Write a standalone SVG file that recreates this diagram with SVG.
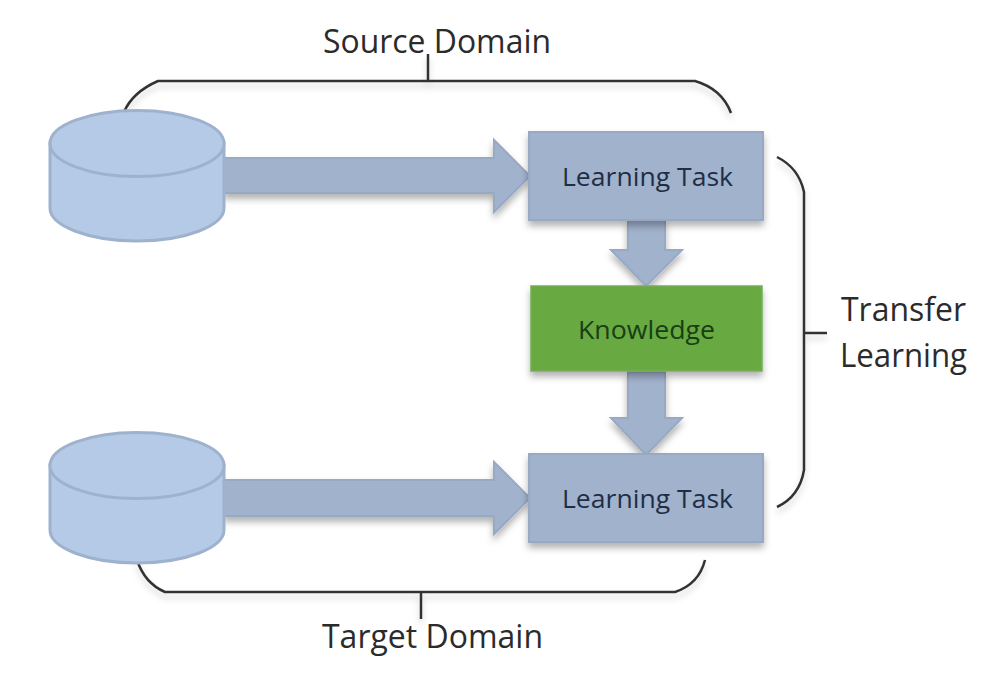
<svg xmlns="http://www.w3.org/2000/svg" width="1000" height="674" viewBox="0 0 1000 674">
<style>
text{font-family:"Open Sans","Noto Sans","Liberation Sans",sans-serif}
.lbl{font-size:32px;fill:#2b2b2b}
.task{font-size:26px;fill:#1f2e44}
.know{font-size:26px;fill:#173f12}
.cyl{fill:#b5cae6;stroke:#9fb2cd;stroke-width:3}
.box{fill:#a1b2cd;stroke:#98a9c4;stroke-width:2}
.arr{fill:#a1b2cd;stroke:#98a9c4;stroke-width:2}
.br{fill:none;stroke:#333;stroke-width:2.5}
</style>
<defs>
<filter id="sh" x="-10%" y="-10%" width="120%" height="130%"><feDropShadow dx="0" dy="5" stdDeviation="3.500" flood-color="#000" flood-opacity="0.3"/></filter>
<filter id="shl" x="-5%" y="-20%" width="110%" height="160%"><feDropShadow dx="0" dy="5" stdDeviation="3" flood-color="#000" flood-opacity="0.18"/></filter>
</defs>
<rect width="1000" height="674" fill="#fff"/>
<g id="connectors">
<path class="arr" filter="url(#sh)" d="M224 158H494V140L530 176L494 212V193H224Z"/>
<path class="arr" filter="url(#sh)" d="M224 480H494V462L530 498L494 534V516H224Z"/>
<path class="arr" filter="url(#sh)" d="M628 220H665V250H682L646 286L611 250H628Z"/>
<path class="arr" filter="url(#sh)" d="M628 372H665V418H682L646 455L611 418H628Z"/>
<path class="br" filter="url(#shl)" d="M124 112C130 98 142 88 158 81H695C712 86 725 97 731 113M428 81V54"/>
<path class="br" filter="url(#shl)" d="M777 157C793 165 801 178 804 192V470C801 488 792 500 777 507M804 333H827"/>
<path class="br" filter="url(#shl)" d="M137 560C142 575 151 586 165 592H675C690 587 701 576 705 560M421 592V619"/>
</g>
<g id="source-db">
<path class="cyl" d="M50 143V208C50 226 89 241 137 241S224 226 224 208V143Z"/>
<ellipse class="cyl" cx="137" cy="143.500" rx="87" ry="33"/>
</g>
<g id="target-db">
<path class="cyl" d="M50 465V530C50 548 89 563 137 563S224 548 224 530V465Z"/>
<ellipse class="cyl" cx="137" cy="465.500" rx="87" ry="33"/>
</g>
<g id="task-source">
<rect class="box" filter="url(#sh)" x="529" y="132" width="234" height="88"/>
<text class="task" x="562" y="186" textLength="171" lengthAdjust="spacingAndGlyphs">Learning Task</text>
</g>
<g id="knowledge">
<rect filter="url(#sh)" x="531" y="286" width="231" height="85" fill="#68a942" stroke="#76ad57" stroke-width="1.500"/>
<text class="know" x="578" y="339" textLength="137" lengthAdjust="spacingAndGlyphs">Knowledge</text>
</g>
<g id="task-target">
<rect class="box" filter="url(#sh)" x="529" y="454" width="234" height="88"/>
<text class="task" x="562" y="508" textLength="171" lengthAdjust="spacingAndGlyphs">Learning Task</text>
</g>
<g id="labels">
<text class="lbl" x="323" y="53" textLength="228" lengthAdjust="spacingAndGlyphs">Source Domain</text>
<text class="lbl" x="322" y="648" textLength="221" lengthAdjust="spacingAndGlyphs">Target Domain</text>
<text class="lbl" x="841" y="321" textLength="125" lengthAdjust="spacingAndGlyphs">Transfer</text>
<text class="lbl" x="840" y="367" textLength="127" lengthAdjust="spacingAndGlyphs">Learning</text>
</g>
</svg>
